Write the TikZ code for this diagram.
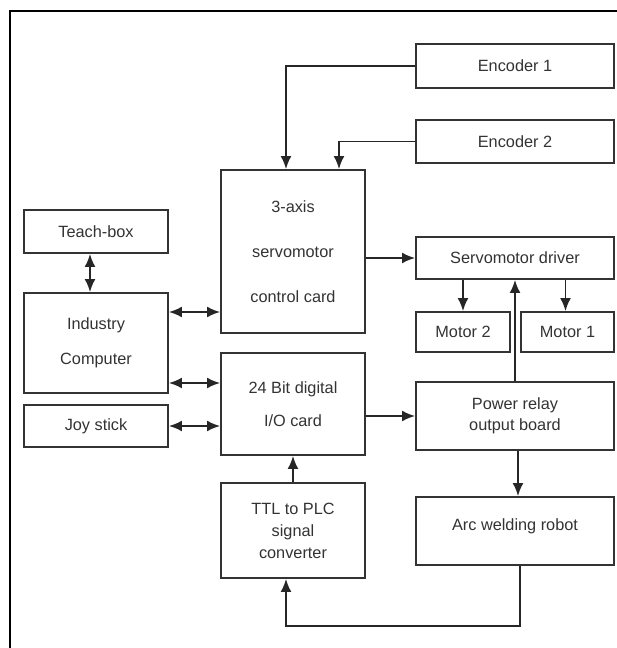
\documentclass[tikz,border=0pt]{standalone}
\usepackage{fontspec}
\setmainfont{Liberation Sans}
\usetikzlibrary{arrows.meta, positioning}
\tikzset{
    block/.style={draw=black!80, line width=1.9pt, rectangle, inner sep=0pt, align=center,
        text=black!80, font=\fontsize{16.3}{18}\selectfont},
    wide/.style={block, minimum width=198pt},
    narrow/.style={block, minimum width=144pt},
    arr/.style={-{Latex[length=13pt,width=11pt]}, line width=1.9pt, draw=black!85},
    biarr/.style={{Latex[length=13pt,width=11pt]}-{Latex[length=13pt,width=11pt]}, line width=1.9pt, draw=black!85}
}

\begin{document}
\begin{tikzpicture}[x=1pt, y=-1pt]
        \useasboundingbox (0,0) rectangle (617,648);
        \draw[line width=1.2pt] (10,648) -- (10,11) -- (617,11);
        % right column
        \node[wide, minimum height=44pt] (enc1) at (515,66) {Encoder 1};
        \node[wide, minimum height=43pt] (enc2) at (515,141.5) {Encoder 2};
        \node[wide, minimum height=42pt] (servo) at (515,258) {Servomotor driver};
        \node[block, minimum width=94pt, minimum height=40pt] (motor2) at (463,332) {Motor 2};
        \node[block, minimum width=93pt, minimum height=40pt] (motor1) at (567.5,332) {Motor 1};
        \node[wide, minimum height=68pt] (relay) at (515,416) {Power relay\\[3pt]output board};
        \node[wide, minimum height=68pt, text depth=12pt] (arc) at (515,531) {Arc welding robot};
        % middle column
        \node[narrow, minimum height=163pt] (axis) at (293,251.5) {3-axis\\[27pt]servomotor\\[27pt]control card};
        \node[narrow, minimum height=102pt] (dio) at (293,404) {24 Bit digital\\[15pt]I/O card};
        \node[narrow, minimum height=95pt] (ttl) at (293,530.5) {TTL to PLC\\[4pt]signal\\[4pt]converter};
        % left column
        \node[narrow, minimum height=43pt] (teach) at (96,231.5) {Teach-box};
        \node[narrow, minimum height=100pt] (comp) at (96,343) {Industry\\[17pt]Computer};
        \node[narrow, minimum height=42pt] (joy) at (96,426) {Joy stick};
        \coordinate (ret) at (286,626);

        \draw[arr] (enc1.west) -| ([xshift=-7pt]axis.north);
        \draw[arr] (enc2.west) -| ([xshift=46pt]axis.north);
        \draw[biarr] ([xshift=-6pt]teach.south) -- ([xshift=-6pt]comp.north);
        \draw[biarr] ([yshift=31pt]comp.east) -- ([yshift=31pt]comp.east -| axis.west);
        \draw[biarr] ([yshift=-40pt]comp.east) -- ([yshift=-40pt]comp.east -| dio.west);
        \draw[biarr] (joy.east) -- (joy.east -| dio.west);
        \draw[arr] (axis.east |- servo.west) -- (servo.west);
        \draw[arr] (servo.south -| motor2.north) -- (motor2.north);
        \draw[arr] ([xshift=-2pt]servo.south -| motor1.north) -- ([xshift=-2pt]motor1.north);
        \draw[arr] (relay.north) -- (servo.south);
        \draw[arr] (dio.east |- relay.west) -- (relay.west);
        \draw[arr] (ttl.north) -- (dio.south);
        \draw[arr] ([xshift=3pt]relay.south) -- ([xshift=3pt]arc.north);
        \draw[arr] ([xshift=5pt]arc.south) |- (ret) -- ([xshift=-7pt]ttl.south);
    \end{tikzpicture}
\end{document}
